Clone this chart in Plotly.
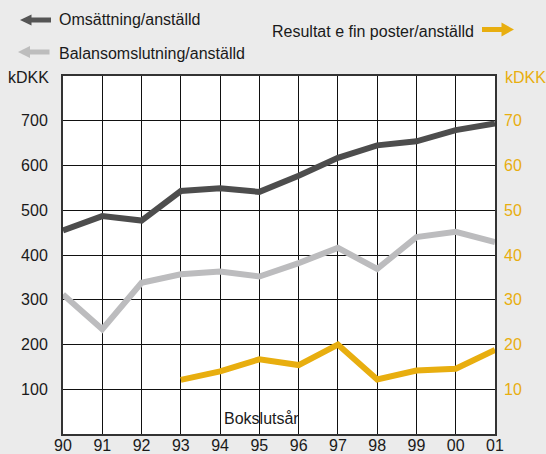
import plotly.graph_objects as go

years = ["90", "91", "92", "93", "94", "95", "96", "97", "98", "99", "00", "01"]
omsattning = [455, 487, 477, 543, 549, 541, 577, 617, 645, 654, 679, 694]
balans = [312, 234, 338, 357, 363, 352, 382, 416, 369, 440, 452, 429]
resultat_years = ["93", "94", "95", "96", "97", "98", "99", "00", "01"]
resultat = [12.1, 14.0, 16.7, 15.4, 20.0, 12.2, 14.2, 14.6, 18.8]

left_ticks = [100, 200, 300, 400, 500, 600, 700]
right_ticks = [10, 20, 30, 40, 50, 60, 70]

DARK = "#4d4d4d"
GRAY = "#bcbcbe"
YEL = "#e8ae0f"
BG = "#ebebeb"
FONT = "Liberation Sans, Arial, Helvetica, sans-serif"

W, H = 546, 454
L, R, T, B = 63, 51, 76, 20
PW, PH = W - L - R, H - T - B

def px(x):
    return (x - L) / PW

def py(y):
    return (H - B - y) / PH

xi = {y: i for i, y in enumerate(years)}

fig = go.Figure()
fig.add_trace(go.Scatter(x=[xi[y] for y in years], y=omsattning, mode="lines",
                         line=dict(color=DARK, width=6), showlegend=False, hoverinfo="skip"))
fig.add_trace(go.Scatter(x=[xi[y] for y in years], y=balans, mode="lines",
                         line=dict(color=GRAY, width=6), showlegend=False, hoverinfo="skip"))
fig.add_trace(go.Scatter(x=[xi[y] for y in resultat_years], y=resultat, mode="lines", yaxis="y2",
                         line=dict(color=YEL, width=6), showlegend=False, hoverinfo="skip"))

def arrow_left(x_tip, yc, head_len, head_half, shaft_end, shaft_half, color):
    pts = [(x_tip, yc), (x_tip + head_len, yc - head_half), (x_tip + head_len, yc - shaft_half),
           (shaft_end, yc - shaft_half), (shaft_end, yc + shaft_half), (x_tip + head_len, yc + shaft_half),
           (x_tip + head_len, yc + head_half)]
    path = "M " + " L ".join(f"{px(a):.5f},{py(b):.5f}" for a, b in pts) + " Z"
    return dict(type="path", xref="paper", yref="paper", path=path, fillcolor=color,
                line=dict(width=0), layer="above")

def arrow_right(x_tip, yc, head_len, head_half, shaft_start, shaft_half, color):
    pts = [(x_tip, yc), (x_tip - head_len, yc - head_half), (x_tip - head_len, yc - shaft_half),
           (shaft_start, yc - shaft_half), (shaft_start, yc + shaft_half), (x_tip - head_len, yc + shaft_half),
           (x_tip - head_len, yc + head_half)]
    path = "M " + " L ".join(f"{px(a):.5f},{py(b):.5f}" for a, b in pts) + " Z"
    return dict(type="path", xref="paper", yref="paper", path=path, fillcolor=color,
                line=dict(width=0), layer="above")

shapes = [
    arrow_left(20, 20, 11.5, 5.5, 51, 2.5, "#555555"),
    arrow_left(18, 52, 12, 6, 49.5, 2.5, "#bdbdbd"),
    arrow_right(514, 29.5, 12.5, 7, 482, 2.5, YEL),
]

ann = []
def text(x, y, s, color="#1a1a1a", size=16, xanchor="left"):
    ann.append(dict(x=px(x), y=py(y), xref="paper", yref="paper", text=s, showarrow=False,
                    xanchor=xanchor, yanchor="middle", font=dict(family=FONT, size=size, color=color)))

text(57, 20, "Omsättning/anställd")
text(57, 53, "Balansomslutning/anställd")
text(476, 31, "Resultat e fin poster/anställd", xanchor="right")
text(51, 77, "kDKK", xanchor="right")
text(503, 77, "kDKK", color=YEL)
text(261, 418, "Bokslutsår", size=16, xanchor="center")

fig.update_layout(
    width=W, height=H, margin=dict(l=L, r=R, t=T, b=B, autoexpand=False),
    paper_bgcolor=BG, plot_bgcolor="white",
    font=dict(family=FONT, size=16, color="#1a1a1a"),
    shapes=shapes, annotations=ann,
    xaxis=dict(range=[0, len(years) - 1], tickvals=list(range(len(years))), ticktext=years,
               showgrid=True, gridcolor="#111111", gridwidth=1, zeroline=False, automargin=False,
               showline=True, linecolor="#333333", linewidth=2, mirror=True,
               ticks="", ticklabelstandoff=-4, tickfont=dict(size=16, color="#1a1a1a")),
    yaxis=dict(range=[0, 800], tickvals=left_ticks, showgrid=True, gridcolor="#111111", gridwidth=1,
               zeroline=False, showline=True, linecolor="#333333", linewidth=2, mirror=True, automargin=False,
               ticks="", ticklabelstandoff=10, tickfont=dict(size=16, color="#1a1a1a")),
    yaxis2=dict(range=[0, 80], tickvals=right_ticks, overlaying="y", side="right", showgrid=False,
                zeroline=False, showline=False, ticks="", ticklabelstandoff=8, automargin=False,
                tickfont=dict(size=16, color=YEL)),
)

fig.write_html("out.html", config={"displayModeBar": False},
               post_script="document.body.style.margin='0';document.body.style.overflow='hidden';")
